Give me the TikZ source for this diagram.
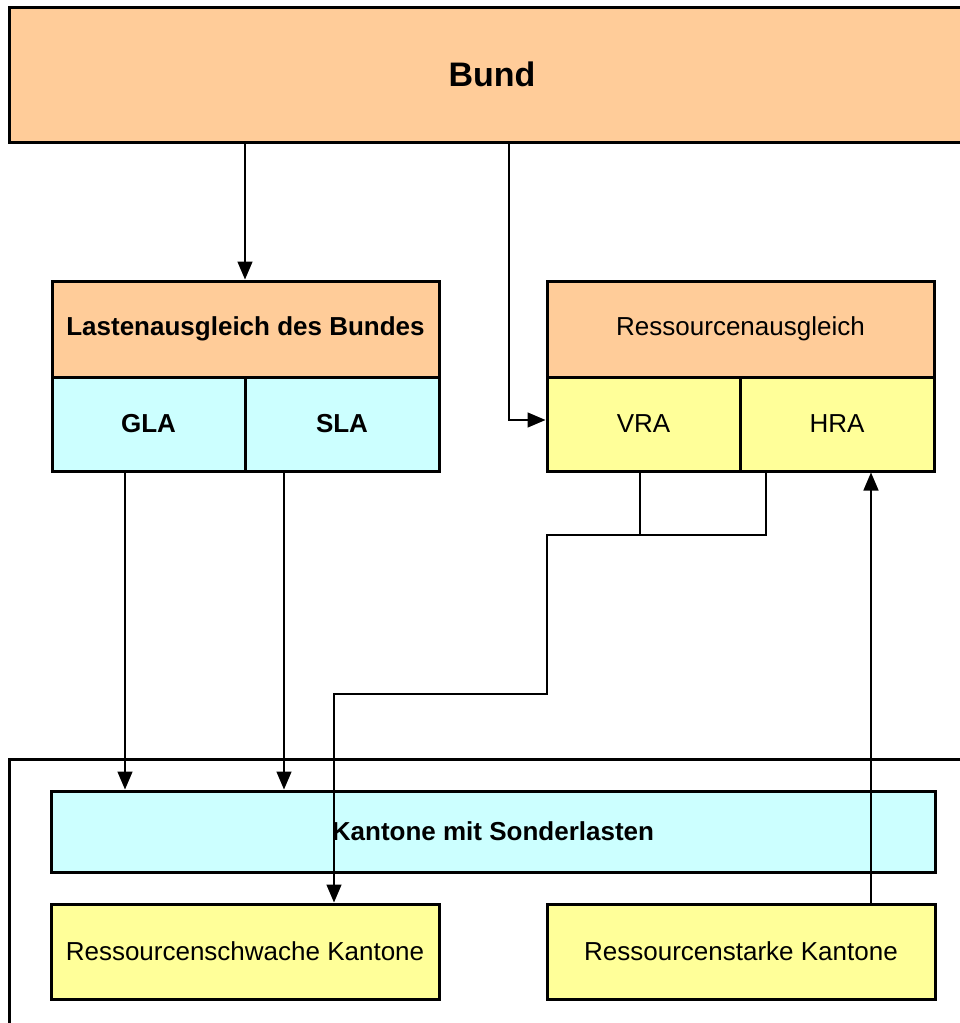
\documentclass[tikz,border=0pt]{standalone}
\usepackage{fontspec}
\setmainfont{Liberation Sans}
\usetikzlibrary{arrows.meta}
\definecolor{peach}{HTML}{FFCC99}
\definecolor{lcyan}{HTML}{CCFFFF}
\definecolor{lyellow}{HTML}{FFFF99}
\tikzset{
  box/.style={draw=black, line width=3pt, rectangle, inner sep=0pt, font=\fontsize{26}{30}\selectfont},
  boldbox/.style={box, font=\fontsize{26}{30}\selectfont\bfseries},
  conn/.style={draw=black, line width=1.5pt},
  arr/.style={conn, -{Triangle[length=18pt,width=15pt]}},
}
\begin{document}
\begin{tikzpicture}[x=1pt,y=-1pt]
\useasboundingbox (0,0) rectangle (960,1023);
% outer frame for cantons
\node[box, minimum width=966pt, minimum height=281pt] (outer) at (492,899.5) {};
% Bund
\node[box, fill=peach, minimum width=966pt, minimum height=135pt, font=\fontsize{34}{38}\selectfont\bfseries] (bund) at (492,74.5) {Bund};
% Lastenausgleich
\node[boldbox, fill=peach, minimum width=387pt, minimum height=96pt] (lab) at (245.5,329) {Lastenausgleich des Bundes};
\node[boldbox, fill=lcyan, minimum width=193pt, minimum height=94pt] (gla) at (148.5,424) {GLA};
\node[boldbox, fill=lcyan, minimum width=194pt, minimum height=94pt] (sla) at (342,424) {SLA};
% Ressourcenausgleich
\node[box, fill=peach, minimum width=387pt, minimum height=96pt] (ra) at (740.5,329) {Ressourcenausgleich};
\node[box, fill=lyellow, minimum width=193pt, minimum height=94pt] (vra) at (643.5,424) {VRA};
\node[box, fill=lyellow, minimum width=194pt, minimum height=94pt] (hra) at (837,424) {HRA};
% Kantone
\node[boldbox, fill=lcyan, minimum width=884pt, minimum height=81pt] (kms) at (493,831.5) {Kantone mit Sonderlasten};
\node[box, fill=lyellow, minimum width=388pt, minimum height=95pt] (rsw) at (245,951.5) {Ressourcenschwache Kantone};
\node[box, fill=lyellow, minimum width=388pt, minimum height=95pt] (rst) at (741,951.5) {Ressourcenstarke Kantone};
% helper coordinates
\coordinate (xl) at (245,0);
\coordinate (xr) at (509,0);
\coordinate (xg) at (125,0);
\coordinate (xs) at (284,0);
\coordinate (xa) at (640,0);
\coordinate (xb) at (766,0);
\coordinate (xc) at (334,0);
\coordinate (xd) at (871,0);
\coordinate (yv) at (0,420);
\coordinate (m1) at (547,535);
\coordinate (m2) at (547,694);
% connectors
\draw[arr] (bund.south -| xl) -- (lab.north -| xl);
\draw[arr] (bund.south -| xr) |- (vra.west |- yv);
\draw[arr] (gla.south -| xg) -- (kms.north -| xg);
\draw[arr] (sla.south -| xs) -- (kms.north -| xs);
\draw[conn] (vra.south -| xa) -- (xa |- m1);
\draw[arr] (hra.south -| xb) |- (m1) -- (m2) -| (rsw.north -| xc);
\draw[arr] (rst.north -| xd) -- (hra.south -| xd);
\end{tikzpicture}
\end{document}
